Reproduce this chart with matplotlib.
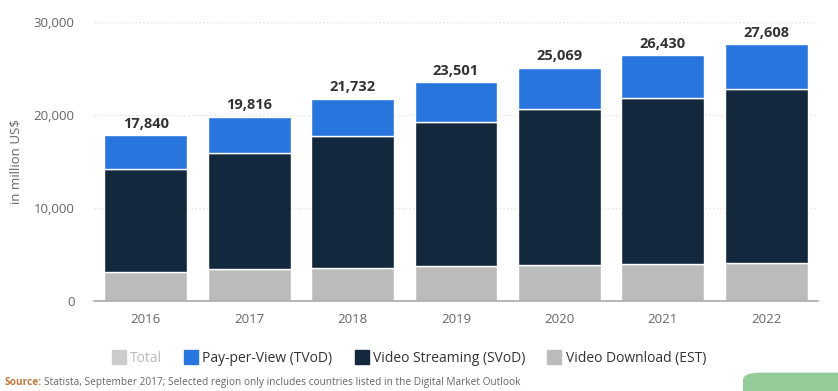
import matplotlib
matplotlib.use("Agg")
import matplotlib.pyplot as plt
from matplotlib.lines import Line2D
from matplotlib.patches import FancyBboxPatch
import numpy as np

plt.rcParams['font.family'] = ['Open Sans', 'DejaVu Sans']

# Data (million US$)
years = ["2016", "2017", "2018", "2019", "2020", "2021", "2022"]
totals = [17840, 19816, 21732, 23501, 25069, 26430, 27608]
est = [3190, 3450, 3590, 3800, 3940, 4020, 4130]
svod = [11010, 12500, 14110, 15400, 16690, 17790, 18680]
tvod = [t - e - s for t, e, s in zip(totals, est, svod)]

C_TVOD = "#2876dd"
C_SVOD = "#13273d"
C_EST = "#bbbbbb"
C_TOTAL = "#cccccc"

fig = plt.figure(figsize=(8.38, 3.91), dpi=100)
ax = fig.add_axes([0.1122, 0.229, 0.8638, 0.716])

x = np.arange(len(years))
w = 0.8
ax.bar(x, est, w, color=C_EST, edgecolor="white", linewidth=1)
ax.bar(x, svod, w, bottom=est, color=C_SVOD, edgecolor="white", linewidth=1)
ax.bar(x, tvod, w, bottom=np.array(est) + np.array(svod), color=C_TVOD,
       edgecolor="white", linewidth=1)

for xi, t in zip(x, totals):
    ax.text(xi, t + 450, f"{t:,}", ha="center", va="bottom", fontsize=10.5,
            fontweight="bold", color="#333333")

ax.set_xlim(-0.5, 6.5)
ax.set_ylim(0, 30000)
ax.set_yticks([0, 10000, 20000, 30000])
ax.set_yticklabels(["0", "10,000", "20,000", "30,000"])
ax.set_xticks(x)
ax.set_xticklabels(years)
ax.tick_params(axis="both", length=0, labelsize=9.5, labelcolor="#666666")
ax.tick_params(axis="y", pad=14)
ax.tick_params(axis="x", pad=8)
for s in ["top", "right", "left"]:
    ax.spines[s].set_visible(False)
ax.spines["bottom"].set_color("#aaaaaa")
ax.spines["bottom"].set_linewidth(1.2)
ax.grid(axis="y", color="#dddddd", linestyle=(0, (1, 2)), linewidth=0.9)
ax.set_axisbelow(True)
ax.set_ylabel("in million US$", fontsize=9.5, color="#666666", labelpad=8)

handles = [
    Line2D([], [], marker="s", linestyle="none", markersize=10, color=C_TOTAL),
    Line2D([], [], marker="s", linestyle="none", markersize=10, color=C_TVOD),
    Line2D([], [], marker="s", linestyle="none", markersize=10, color=C_SVOD),
    Line2D([], [], marker="s", linestyle="none", markersize=10, color=C_EST),
]
labels = ["Total", "Pay-per-View (TVoD)", "Video Streaming (SVoD)", "Video Download (EST)"]
leg = fig.legend(handles, labels, loc="center", bbox_to_anchor=(0.488, 0.084), ncol=4,
                 frameon=False, fontsize=10, handletextpad=0.3, columnspacing=1.6,
                 handlelength=1.0)
leg.get_texts()[0].set_color("#bbbbbb")
for t in leg.get_texts()[1:]:
    t.set_color("#333333")

fig.text(0.005, 0.016, "Source:", fontsize=7.3, fontweight="bold", color="#c0783c")
fig.text(0.053, 0.016, "Statista, September 2017; Selected region only includes countries listed in the Digital Market Outlook",
         fontsize=7.3, color="#666666")

btn = FancyBboxPatch((743 / 838, -0.05), 0.2, 0.097, boxstyle="round,pad=0,rounding_size=0.02",
                     transform=fig.transFigure, facecolor="#93cc98", edgecolor="none")
fig.patches.append(btn)

fig.savefig("out.png", dpi=100)
